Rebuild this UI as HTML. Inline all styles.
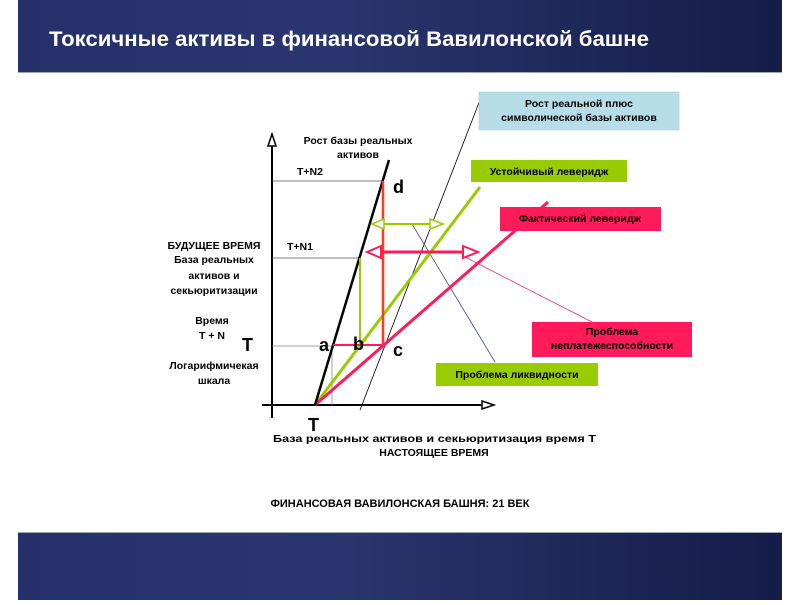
<!DOCTYPE html>
<html><head><meta charset="utf-8"><style>
body{margin:0;width:800px;height:600px;background:#fff;overflow:hidden;font-family:"Liberation Sans",Arial,sans-serif}
</style></head><body>
<svg width="800" height="600" xmlns="http://www.w3.org/2000/svg" font-family="Liberation Sans, Arial, sans-serif">
<defs>
<linearGradient id="bg" x1="0" y1="0" x2="1" y2="0">
<stop offset="0" stop-color="#25306a"/><stop offset="0.4" stop-color="#2b3670"/><stop offset="1" stop-color="#141c48"/>
</linearGradient>
</defs>
<rect x="18" y="0" width="764" height="72" fill="url(#bg)"/>
<rect x="18" y="72" width="764" height="1" fill="#9aa"/>
<text x="49" y="46" font-size="21" font-weight="bold" fill="#fff" textLength="600" lengthAdjust="spacingAndGlyphs">Токсичные активы в финансовой Вавилонской башне</text>
<rect x="18" y="533" width="764" height="67" fill="url(#bg)"/>
<rect x="18" y="532" width="764" height="1" fill="#9aa"/>

<line x1="272" y1="134" x2="272" y2="418" stroke="#000" stroke-width="2"/>
<polygon points="268,146 272,134 276,146" fill="#fff" stroke="#000" stroke-width="1.5"/>
<line x1="262" y1="405" x2="484" y2="405" stroke="#000" stroke-width="2"/>
<polygon points="482,401 494,405 482,409" fill="#fff" stroke="#000" stroke-width="1.5"/>

<line x1="272" y1="181" x2="383" y2="181" stroke="#555" stroke-width="0.8"/>
<line x1="272" y1="258" x2="360" y2="258" stroke="#555" stroke-width="0.8"/>
<line x1="272" y1="346" x2="333" y2="346" stroke="#888" stroke-width="0.8"/>
<line x1="332" y1="346" x2="332" y2="405" stroke="#888" stroke-width="0.8"/>

<line x1="360" y1="410" x2="480" y2="100" stroke="#000" stroke-width="0.8"/>
<line x1="480" y1="118" x2="485" y2="118" stroke="#33c" stroke-width="0.8"/>
<line x1="412" y1="224" x2="495" y2="362" stroke="#44a" stroke-width="0.8"/>
<line x1="463" y1="256" x2="592" y2="322" stroke="#e8306a" stroke-width="0.8"/>

<line x1="315" y1="405" x2="480" y2="187" stroke="#99cc00" stroke-width="3"/>
<line x1="315" y1="405" x2="548" y2="202" stroke="#ff1a5a" stroke-width="3"/>
<line x1="315" y1="405" x2="389" y2="160" stroke="#000" stroke-width="2.5"/>

<line x1="383" y1="181" x2="383" y2="346" stroke="#ff3b1f" stroke-width="2.5"/>
<line x1="360" y1="258" x2="360" y2="346" stroke="#99cc00" stroke-width="2"/>
<line x1="333" y1="345" x2="383" y2="345" stroke="#ff1a5a" stroke-width="2"/>

<line x1="374" y1="224" x2="440" y2="224" stroke="#99cc00" stroke-width="2"/>
<polygon points="384,219 372,224 384,229" fill="#fff" stroke="#99cc00" stroke-width="1.5"/>
<polygon points="430,219 443,224 430,229" fill="#fff" stroke="#99cc00" stroke-width="1.5"/>
<line x1="370" y1="252" x2="475" y2="252" stroke="#ff1a5a" stroke-width="3"/>
<polygon points="381,246 367,252 381,258" fill="#fff" stroke="#ff1a5a" stroke-width="2"/>
<polygon points="463,246 478,252 463,258" fill="#fff" stroke="#ff1a5a" stroke-width="2"/>

<rect x="479" y="92" width="200" height="38" fill="#b7dde8" stroke="#9cc" stroke-width="0.5"/>
<text x="579" y="107" font-size="10.5" font-weight="bold" text-anchor="middle" fill="#000">Рост реальной плюс</text>
<text x="579" y="121" font-size="10.5" font-weight="bold" text-anchor="middle" fill="#000">символической базы активов</text>
<rect x="471" y="160" width="156" height="22" fill="#99cc00"/>
<text x="549" y="175" font-size="10.5" font-weight="bold" text-anchor="middle">Устойчивый левeридж</text>
<rect x="500" y="207" width="161" height="24" fill="#ff1a5a"/>
<text x="580" y="222" font-size="10.5" font-weight="bold" text-anchor="middle">Фактический левeридж</text>
<rect x="532" y="322" width="160" height="35" fill="#ff1a5a"/>
<text x="612" y="335" font-size="10.5" font-weight="bold" text-anchor="middle">Проблема</text>
<text x="612" y="349" font-size="10.5" font-weight="bold" text-anchor="middle">неплатежеспособности</text>
<rect x="436" y="363" width="162" height="23" fill="#99cc00"/>
<text x="517" y="378" font-size="10.5" font-weight="bold" text-anchor="middle">Проблема ликвидности</text>

<g font-size="10.5" font-weight="bold" fill="#000">
<text x="358" y="144" text-anchor="middle">Рост базы реальных</text>
<text x="358" y="158" text-anchor="middle">активов</text>
<text x="297" y="175">T+N2</text>
<text x="287" y="250">T+N1</text>
<text x="214" y="249" text-anchor="middle">БУДУЩЕЕ ВРЕМЯ</text>
<text x="214" y="263" text-anchor="middle">База реальных</text>
<text x="214" y="279" text-anchor="middle">активов и</text>
<text x="214" y="294" text-anchor="middle">секьюритизации</text>
<text x="212" y="324" text-anchor="middle">Время</text>
<text x="212" y="339" text-anchor="middle">T + N</text>
<text x="214" y="369" text-anchor="middle">Логарифмичекая</text>
<text x="214" y="384" text-anchor="middle">шкала</text>
<text x="273" y="442" textLength="323" lengthAdjust="spacingAndGlyphs">База реальных активов и секьюритизация  время  T</text>
<text x="434" y="456" text-anchor="middle">НАСТОЯЩЕЕ ВРЕМЯ</text>
<text x="400" y="507" text-anchor="middle" font-size="11">ФИНАНСОВАЯ ВАВИЛОНСКАЯ БАШНЯ: 21 ВЕК</text>
</g>
<g font-size="18" font-weight="bold" fill="#000">
<text x="242" y="351">T</text>
<text x="308" y="431">T</text>
<text x="319" y="351">a</text>
<text x="353" y="350">b</text>
<text x="393" y="356">c</text>
<text x="393" y="193">d</text>
</g>
</svg>
</body></html>
